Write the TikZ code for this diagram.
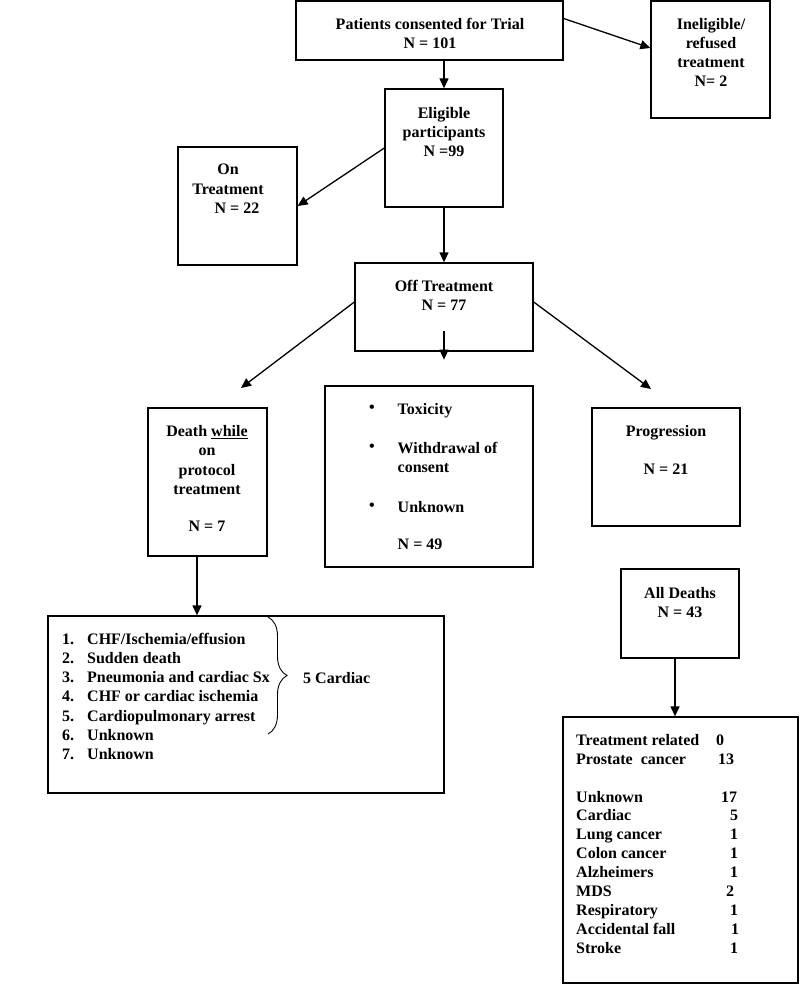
\documentclass[tikz,border=0pt]{standalone}
\usepackage{fontspec}
\setmainfont{Liberation Serif}
\usetikzlibrary{arrows.meta,decorations.pathreplacing}

\begin{document}
\begin{tikzpicture}
[x=1pt,y=-1pt,
  boxDecorate/.style={shape=rectangle,draw,line width=1.3pt,inner sep=0pt},%
  arrowDecorate/.style={-{Triangle[length=10pt,width=9pt]},line width=1.3pt},%
  textDecorate/.style={align=center,inner sep=0pt,font=\bfseries\fontsize{16}{19.3}\selectfont},%
  listDecorate/.style={anchor=base west,inner sep=0pt,font=\bfseries\fontsize{16}{19.3}\selectfont}]
\useasboundingbox (0,0) rectangle (800,984);
%% boxes
\foreach \nodename/\x/\y/\w/\h in {
  pat/429.5/30.5/267/59, inel/710.5/59.5/119/117, elig/444/148/118/118,
  ontr/237.5/206/119/118, offtr/444/307/178/88,
  death/207.5/482/119/148, reasons/429/476.5/208/181, prog/666/467/148/118,
  alld/680/613.5/118/89, causes/680.5/850/235/266, dlist/246/704.5/396/177}
{
  \node (\nodename) at (\x,\y) [boxDecorate,minimum width=\w pt,minimum height=\h pt] {};
}
%% box texts
\node (patText) at (430,33.5) [textDecorate] {Patients consented for Trial\\N = 101};
\node (inelText) at (711,52.5) [textDecorate] {Ineligible/\\refused\\treatment\\N= 2};
\node (eligText) at (444,132) [textDecorate] {Eligible\\participants\\N =99};
\node (ontrText) at (228,189) [textDecorate] {On\\Treatment\\\hspace*{18pt}N = 22};
\node (offText) at (444,295.5) [textDecorate] {Off Treatment\\N = 77};
\node (deathText) at (207,478.5) [textDecorate] {Death \underline{while}\\on\\protocol\\treatment\\[18pt]N = 7};
\node (progText) at (666,450) [textDecorate] {Progression\\[18pt]N = 21};
\node (alldText) at (680,602.5) [textDecorate] {All Deaths\\N = 43};
%% reasons off treatment
\foreach \y/\reason in {409/Toxicity, 448/Withdrawal of, 507/Unknown}
{
  \node (bullet\y) at (372,\y) [textDecorate] {\textbullet};
  \node (reason\y) at (397.5,\y+5.5) [listDecorate] {\reason};
}
\node (consent) at (397.5,472.5) [listDecorate] {consent};
\node (reasonN) at (397.5,549.5) [listDecorate] {N = 49};
%% deaths on protocol
\foreach \n/\entry/\y in {
  1/CHF\slash Ischemia\slash effusion/639, 2/Sudden death/658,
  3/Pneumonia and cardiac Sx/677, 4/CHF or cardiac ischemia/696,
  5/Cardiopulmonary arrest/716, 6/Unknown/735, 7/Unknown/754}
{
  \node (num\n) at (62,\y+5.5) [listDecorate] {\n.};
  \node (entry\n) at (87,\y+5.5) [listDecorate] {\entry};
}
\draw[decorate,decoration={brace,amplitude=19pt},line width=0.9pt] (268,617) -- (268,734);
\node (cardiac) at (303,683.5) [listDecorate] {5 Cardiac};
%% all causes of death
\foreach \cause/\num/\y/\nx in {
  Treatment related/0/740/720, Prostate\ \ cancer/13/759/726,
  Unknown/17/797/729, Cardiac/5/815/734, Lung cancer/1/834/734,
  Colon cancer/1/853/734, Alzheimers/1/872/734, MDS/2/891/730,
  Respiratory/1/910/734, Accidental fall/1/929/735, Stroke/1/948/734}
{
  \node (cause\y) at (576,\y+5.5) [listDecorate] {\cause};
  \node (count\y) at (\nx,\y+5.5) [textDecorate,anchor=base] {\num};
}
%% arrows
\coordinate (deathIn) at (241,388);
\coordinate (progIn) at (651,389);
\draw[arrowDecorate] (elig.north |- pat.south) -- (elig.north);
\draw[arrowDecorate] ([yshift=12pt]pat.east) -- ([yshift=11.5pt]inel.west);
\draw[arrowDecorate] (elig.west) -- (ontr.east);
\draw[arrowDecorate] (elig.south) -- (offtr.north);
\draw[arrowDecorate] ([yshift=5pt]offtr.west) -- (deathIn);
\draw[arrowDecorate] ([yshift=5pt]offtr.east) -- (progIn);
\draw[arrowDecorate] ([yshift=-24pt]offtr.center) -- ([yshift=-8pt]offtr.south);
\draw[arrowDecorate] ([xshift=-10.5pt]death.south) -- ([xshift=-10.5pt]death.south |- dlist.north);
\draw[arrowDecorate] ([xshift=-5pt]alld.south) -- ([xshift=-5pt]alld.south |- causes.north);
\end{tikzpicture}
\end{document}
